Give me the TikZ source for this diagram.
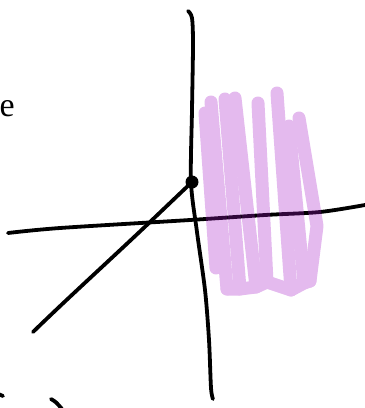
\documentclass[tikz,border=0pt]{standalone}
\usepackage{fontspec}
\setmainfont{Liberation Serif}
\usepackage{tikz}
\definecolor{scribcolor}{RGB}{165,25,198}
\tikzset{
  ink/.style={line width=3.8pt, line cap=round, line join=round, draw=black},
  scrib/.style={line width=13pt, line cap=round, line join=round, draw=scribcolor},
  dotmark/.style={circle, fill=black, minimum size=13pt, inner sep=0pt},
  lbl/.style={font=\fontsize{34}{34}\selectfont, inner sep=0pt},
}

\begin{document}
\begin{tikzpicture}[x=1pt, y=-1pt]
\useasboundingbox (0,0) rectangle (365,408);
% axes
\draw[ink] plot[smooth] coordinates {(188,11) (192,18) (193,45) (192,110) (191,182) (197,232) (205,290) (209,340) (211,388) (213,399)};
\draw[ink] plot[smooth] coordinates {(8,233) (60,228) (190,220) (265,215) (320,212) (365,205)};
% point and its ray
\node[dotmark] (pt) at (192,182) {};
\coordinate (tail) at (33,332);
\draw[ink] (tail) .. controls (70,296) and (110,260) .. (150,222) -- (pt.center);
% cut-off text and strokes
\node[lbl, anchor=base west] (txt) at (-0.5,116) {e};
\draw[ink] (-4,393) -- (3,396);
\draw[ink] (51,399) .. controls (56,402) .. (62,409);
% shading scribble
\begin{scope}[transparency group, opacity=0.3]
\draw[scrib] (205,113) -- (216,268);
\draw[scrib] (211,102) -- (227,289);
\draw[scrib] (225,99) -- (240,289);
\draw[scrib] (235,98) -- (256,287);
\draw[scrib] (258,103) -- (267,282);
\draw[scrib] (277,93) -- (291,290);
\draw[scrib] (289,126) -- (304,283);
\draw[scrib] (299,118) -- (317,226) -- (310,281);
\draw[scrib] (227,289) -- (240,289) -- (256,287) -- (267,282) -- (291,290) -- (304,283) -- (310,281);
\end{scope}
\end{tikzpicture}
\end{document}
